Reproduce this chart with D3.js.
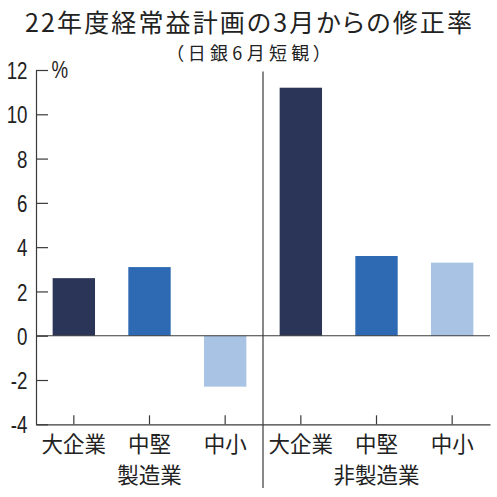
<!DOCTYPE html>
<html><head><meta charset="utf-8">
<script src="https://cdn.jsdelivr.net/npm/d3@7"></script>
<style>
html,body{margin:0;padding:0;background:#fff;}
svg{display:block;}
text{font-family:"Noto Sans CJK JP","Noto Sans",sans-serif;fill:#222;font-feature-settings:"palt";}
</style></head>
<body>
<svg id="chart" width="497" height="497"></svg>
<script>
const title = "22年度経常益計画の3月からの修正率";
const subtitle = "（日銀6月短観）";
const groups = ["製造業", "非製造業"];
const sizes = ["大企業", "中堅", "中小"];
const manufacturing = [2.6, 3.1, -2.3];
const nonManufacturing = [11.2, 3.6, 3.3];
const yTicks = [-4, -2, 0, 2, 4, 6, 8, 10, 12];
const unitLabel = "%";

const colors = ["#2b3558", "#2e6ab3", "#a8c3e3"];
const seriesByGroup = [manufacturing, nonManufacturing];
const rows = [];
groups.forEach((g, gi) => sizes.forEach((s, si) => rows.push({key: g + "|" + s, group: g, size: s, si, value: seriesByGroup[gi][si]})));

const svg = d3.select("#chart");
const mLeft = 36, mRight = 490, mTop = 70, mBottom = 424.3;
const numFont = "'Liberation Sans',Arial,sans-serif";
const sx = 0.78;

const x = d3.scaleBand().domain(rows.map(d => d.key)).range([mLeft, mRight]).paddingInner(0.44).paddingOuter(0.22);
const y = d3.scaleLinear().domain([-4, 12]).range([mBottom, mTop]);

// title
svg.append("text").attr("x", 248.5).attr("y", 31.8).attr("text-anchor", "middle")
  .attr("font-size", 25).attr("textLength", 447).attr("lengthAdjust", "spacing").text(title);
svg.append("text").attr("x", 248.5).attr("y", 60).attr("text-anchor", "middle")
  .attr("font-size", 18).attr("textLength", 148).attr("lengthAdjust", "spacing").text(subtitle);

// bars
svg.append("g").selectAll("rect").data(rows).join("rect")
  .attr("x", d => x(d.key))
  .attr("width", x.bandwidth())
  .attr("y", d => y(Math.max(0, d.value)))
  .attr("height", d => Math.abs(y(d.value) - y(0)))
  .attr("fill", d => colors[d.si]);

// y axis
const yAxis = svg.append("g").attr("transform", `translate(${mLeft},0)`)
  .call(d3.axisLeft(y).tickValues(yTicks).tickSizeInner(-12).tickSizeOuter(0).tickPadding(8).tickFormat(d => String(d)));
yAxis.selectAll("path,line").attr("stroke", "#3a3a3a").attr("stroke-width", 1.2);
yAxis.selectAll("text").attr("font-size", 24).attr("fill", "#222")
  .attr("x", -8.5 / sx).attr("dy", "0.36em").attr("transform", `scale(${sx},1)`)
  .style("font-family", numFont);

// x axis
const xAxis = svg.append("g").attr("transform", `translate(0,${mBottom})`)
  .call(d3.axisBottom(x).tickSizeInner(-9).tickSizeOuter(0).tickPadding(0).tickFormat(k => k.split("|")[1]));
xAxis.selectAll("path,line").attr("stroke", "#3a3a3a").attr("stroke-width", 1.2);
xAxis.selectAll("text").attr("font-size", 21.5).attr("fill", "#222")
  .attr("y", 27.5).attr("dy", null)
  .style("font-family", "'Noto Sans CJK JP',sans-serif");

// zero line
svg.append("line").attr("x1", mLeft).attr("x2", mRight).attr("y1", y(0)).attr("y2", y(0))
  .attr("stroke", "#3a3a3a").attr("stroke-width", 1.2);

// divider between groups
const divX = x(groups[1] + "|" + sizes[0]) - x.step() * x.paddingInner() / 2;
svg.append("line").attr("x1", divX).attr("x2", divX).attr("y1", mTop + 1.5).attr("y2", 488)
  .attr("stroke", "#3a3a3a").attr("stroke-width", 1.2);

// group labels
groups.forEach(g => {
  const cx = x(g + "|" + sizes[1]) + x.bandwidth() / 2;
  svg.append("text").attr("x", cx).attr("y", 483).attr("text-anchor", "middle")
    .attr("font-size", 21.5).text(g);
});

// unit label
svg.append("text").attr("x", 51.5 / sx).attr("y", 78).attr("font-size", 24)
  .attr("transform", `scale(${sx},1)`)
  .style("font-family", numFont).text(unitLabel);
</script>
</body></html>
